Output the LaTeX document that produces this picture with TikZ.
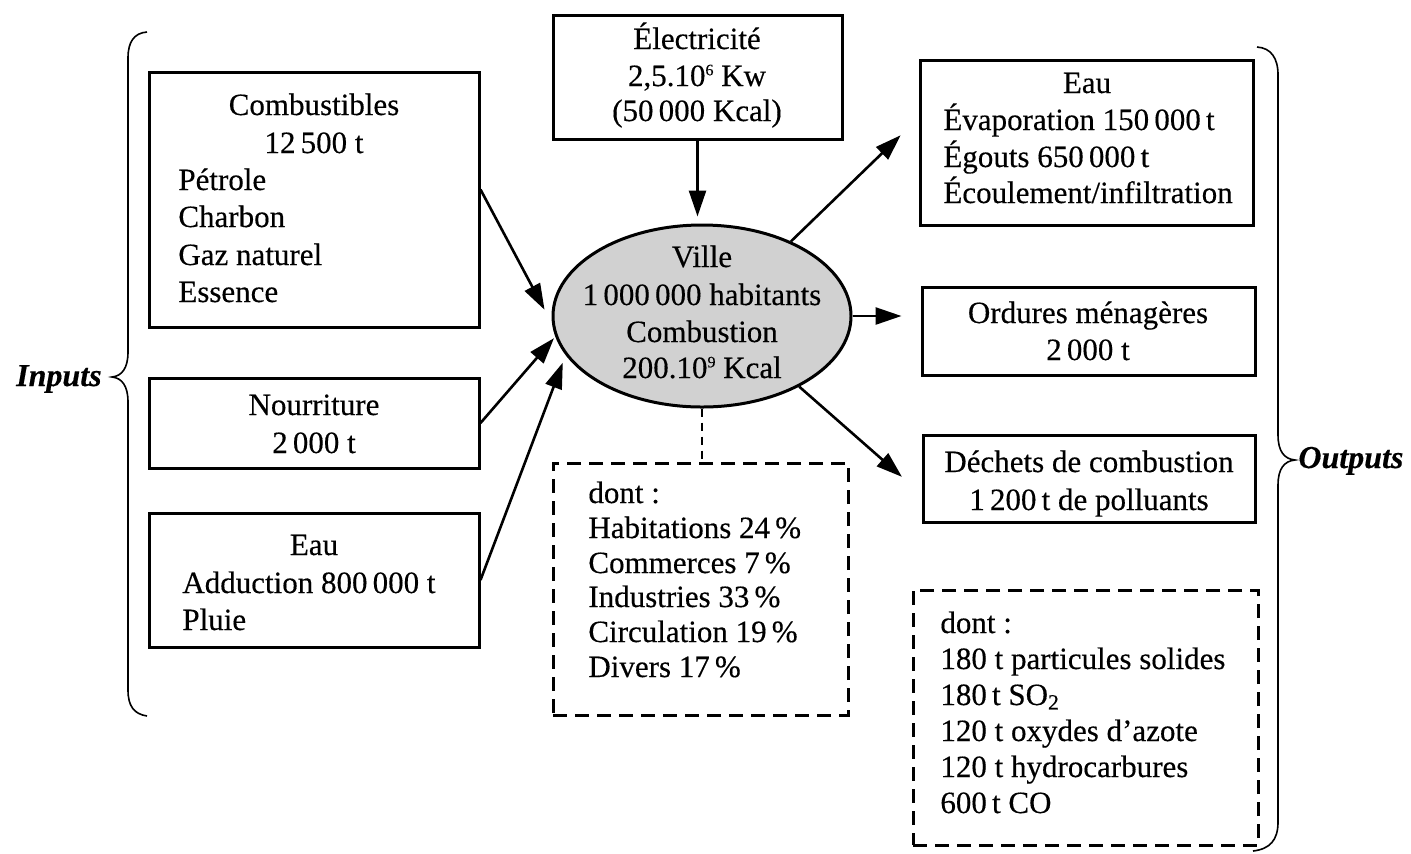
\documentclass[tikz,border=0pt]{standalone}
\usepackage{fontspec}
\setmainfont{Liberation Serif}[FakeBold=0.35]
\usetikzlibrary{arrows.meta,calc,shapes.geometric}
\newcommand{\supsm}[1]{\raisebox{0.75ex}{\fontsize{8pt}{8pt}\selectfont #1}}
\begin{document}
\begin{tikzpicture}[x=0.5pt,y=-0.5pt,
  box/.style={draw, line width=1.5pt, inner sep=0pt},
  dbox/.style={draw, line width=1.5pt, dash pattern=on 7pt off 4pt, inner sep=0pt},
  lbl/.style={inner sep=0pt, font=\fontsize{15.5pt}{18.5pt}\selectfont},
  cl/.style={lbl, anchor=base},
  ll/.style={lbl, anchor=base west},
  arr/.style={line width=1.3pt, -{Triangle[length=13pt,width=8.5pt]}},
  bracepath/.style={line width=0.8pt},
  side/.style={inner sep=0pt, font=\fontsize{16pt}{19pt}\selectfont\bfseries\itshape}
]
\useasboundingbox (0,0) rectangle (1411,853);

% boxes
\node[box, minimum width=165pt, minimum height=127.5pt] (comb) at (314,199.5) {};
\node[box, minimum width=165pt, minimum height=45pt] (nour) at (314,423) {};
\node[box, minimum width=165pt, minimum height=67pt] (eauin) at (314,580) {};
\node[box, minimum width=144.5pt, minimum height=62pt] (elec) at (697.5,77) {};
\node[draw, line width=1.5pt, ellipse, fill=black!18, inner sep=0pt,
      minimum width=149pt, minimum height=91pt] (ville) at (702,316) {};
\node[box, minimum width=166.5pt, minimum height=82.5pt] (eauout) at (1086.5,142.5) {};
\node[box, minimum width=166.5pt, minimum height=44pt] (ord) at (1088.5,331) {};
\node[box, minimum width=166pt, minimum height=43.5pt] (dech) at (1089,478.5) {};
\node[dbox, minimum width=147.5pt, minimum height=126pt] (dont1) at (700.5,589) {};
\node[dbox, minimum width=172.5pt, minimum height=127.5pt] (dont2) at (1085.5,717.5) {};

% texts: Combustibles
\node[cl] (c1) at (314,115) {Combustibles};
\node[cl] (c2) at (314,153) {12\,500 t};
\node[ll] (c3) at (178,190) {Pétrole};
\node[ll] (c4) at (178,227) {Charbon};
\node[ll] (c5) at (178,265) {Gaz naturel};
\node[ll] (c6) at (178,302) {Essence};
% Nourriture
\node[cl] (n1) at (314,415) {Nourriture};
\node[cl] (n2) at (314,453) {2\,000 t};
% Eau input
\node[cl] (e1) at (314,555) {Eau};
\node[ll] (e2) at (182,593) {Adduction 800\,000 t};
\node[ll] (e3) at (182,630) {Pluie};
% Electricite
\node[cl] (l1) at (697,49) {Électricité};
\node[cl] (l2) at (697,86) {2,5.10\supsm{6} Kw};
\node[cl] (l3) at (697,121) {(50\,000 Kcal)};
% Ville
\node[cl] (v1) at (702,267) {Ville};
\node[cl] (v2) at (702,305) {1\,000\,000 habitants};
\node[cl] (v3) at (702,342) {Combustion};
\node[cl] (v4) at (702,378) {200.10\supsm{9} Kcal};
% Eau output
\node[cl] (o1) at (1087,93) {Eau};
\node[ll] (o2) at (943,130) {Évaporation 150\,000\,t};
\node[ll] (o3) at (943,167) {Égouts 650\,000\,t};
\node[ll] (o4) at (943,203) {Écoulement/infiltration};
% Ordures
\node[cl] (r1) at (1088,323) {Ordures ménagères};
\node[cl] (r2) at (1088,360) {2\,000 t};
% Dechets
\node[cl] (d1) at (1089,472) {Déchets de combustion};
\node[cl] (d2) at (1089,510) {1\,200\,t de polluants};
% dont center
\node[ll] (p1) at (588,503) {dont :};
\node[ll] (p2) at (588,538) {Habitations 24\,\%};
\node[ll] (p3) at (588,573) {Commerces 7\,\%};
\node[ll] (p4) at (588,607) {Industries 33\,\%};
\node[ll] (p5) at (588,642) {Circulation 19\,\%};
\node[ll] (p6) at (588,677) {Divers 17\,\%};
% dont right
\node[ll] (q1) at (940,633) {dont :};
\node[ll] (q2) at (940,669) {180 t particules solides};
\node[ll] (q3) at (940,705) {180\,t SO\textsubscript{2}};
\node[ll] (q4) at (940,741) {120 t oxydes d’azote};
\node[ll] (q5) at (940,777) {120 t hydrocarbures};
\node[ll] (q6) at (940,813) {600\,t CO};

% side labels
\node[side, anchor=base east] (inputs) at (102,386) {Inputs};
\node[side, anchor=base west] (outputs) at (1298,468) {Outputs};

% braces
\draw[bracepath] (147,32) .. controls (134,33) and (128,42) .. (128,58)
  -- (128,352) .. controls (128,368) and (122,376) .. (112,377)
  .. controls (122,378) and (128,386) .. (128,402)
  -- (128,690) .. controls (128,706) and (134,714) .. (147,716);
\draw[bracepath] (1257,47) .. controls (1271,48) and (1278,58) .. (1278,75)
  -- (1278,435) .. controls (1278,451) and (1284,459) .. (1295,460)
  .. controls (1284,461) and (1278,469) .. (1278,485)
  -- (1278,822) .. controls (1278,840) and (1270,849) .. (1253,851);

% connectors
\draw[arr, shorten >=8pt] ([yshift=5pt]comb.east) -- (ville.183);
\draw[arr, shorten >=1pt] (nour.east) -- (ville.188);
\draw[arr, shorten >=4pt] (eauin.east) -- (ville.196);
\draw[arr, shorten >=3.5pt] (elec.south) -- (elec.south |- ville.north);
\draw[arr, shorten >=12.4pt] (ville.40) -- ([yshift=12.25pt]eauout.west);
\draw[arr, shorten >=9.5pt] (ville.east) -- (ville.east -| ord.west);
\draw[arr, shorten >=13pt] (ville.-36) -- ([yshift=-7.75pt]dech.west);
\draw[line width=1.2pt, dash pattern=on 4pt off 3pt] (ville.south) -- (ville.south |- dont1.north);
\end{tikzpicture}
\end{document}
